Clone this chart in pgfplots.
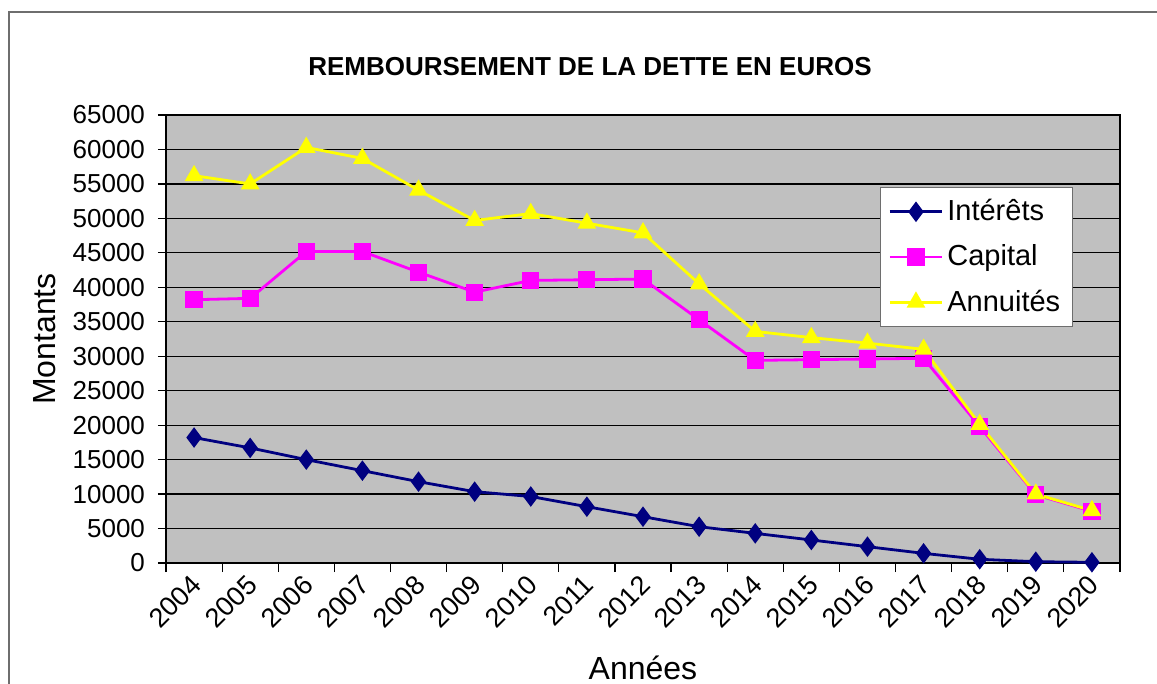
\documentclass[border=0pt]{standalone}
\usepackage{pgfplots}
\pgfplotsset{compat=1.18}
\usepackage{fontspec}
\setmainfont{Liberation Sans}
\definecolor{plotgray}{RGB}{192,192,192}
\definecolor{navyline}{RGB}{0,0,128}
\definecolor{magline}{RGB}{255,0,255}
\definecolor{yelline}{RGB}{255,255,0}
\definecolor{frameg}{RGB}{110,110,110}
\begin{document}
\begin{tikzpicture}
\useasboundingbox (0,0) rectangle (578.5pt,-342pt);
\draw[frameg, line width=1pt] (4.5pt,-345pt) -- (4.5pt,-6pt) -- (582pt,-6pt);
\node[font=\fontsize{13}{15}\selectfont\bfseries] at (295pt,-33.5pt) {REMBOURSEMENT DE LA DETTE EN EUROS};
\begin{axis}[
  at={(83pt,-281.5pt)}, anchor=south west,
  scale only axis, width=477pt, height=224pt,
  xmin=-0.5, xmax=16.5, ymin=0, ymax=65000,
  axis background/.style={fill=plotgray},
  xtick={0,...,16},
  xticklabels={2004,2005,2006,2007,2008,2009,2010,2011,2012,2013,2014,2015,2016,2017,2018,2019,2020},
  minor xtick={-0.5,0.5,...,16.5},
  major x tick style={draw=none},
  minor x tick style={black, line width=0.6pt},
  ytick={0,5000,...,65000},
  ymajorgrids, grid style={black, line width=0.6pt},
  tick align=outside, tick pos=left,
  major tick length=4pt, minor tick length=4.5pt,
  y tick style={black, line width=0.6pt},
  scaled ticks=false,
  /pgf/number format/.cd, set thousands separator={}, assume math mode=true, /pgfplots/.cd,
  yticklabel style={font=\fontsize{13}{15}\selectfont, xshift=-3pt},
  xticklabel style={font=\fontsize{13.5}{15}\selectfont, rotate=45, anchor=east, yshift=-4pt, xshift=1pt},
  ylabel={Montants}, xlabel={Années},
  every axis y label/.style={at={(axis description cs:-0.1268,0.5)}, rotate=90, anchor=center, font=\fontsize{16}{18}\selectfont},
  every axis x label/.style={at={(axis description cs:0.5,-0.234)}, anchor=center, font=\fontsize{16}{18}\selectfont},
  axis line style={black, line width=0.6pt},
  legend style={at={(0.7484,0.8393)}, anchor=north west, draw=frameg, fill=white, line width=0.6pt,
    font=\fontsize{14.5}{17}\selectfont, row sep=6.5pt, inner xsep=4pt, inner ysep=4pt},
  legend cell align=left,
  legend image code/.code={\draw[#1] (0pt,0pt) -- (26pt,0pt); \draw[#1, mark repeat=2, mark phase=2] plot coordinates {(0pt,0pt) (13pt,0pt) (26pt,0pt)};},
]
\addplot[navyline, line width=1.4pt, mark=diamond*, mark size=4pt, mark options={solid, fill=navyline}] coordinates {
(0,18200) (1,16700) (2,15000) (3,13400) (4,11800) (5,10350) (6,9650) (7,8170) (8,6720) (9,5270) (10,4300) (11,3340) (12,2370) (13,1400) (14,540) (15,190) (16,100)};
\addlegendentry{Intérêts}
\addplot[magline, line width=1.4pt, mark=square*, mark size=3.6pt, mark options={solid, fill=magline}] coordinates {
(0,38200) (1,38400) (2,45200) (3,45200) (4,42200) (5,39300) (6,41000) (7,41100) (8,41200) (9,35300) (10,29400) (11,29500) (12,29600) (13,29700) (14,19800) (15,9900) (16,7500)};
\addlegendentry{Capital}
\addplot[yelline, line width=1.4pt, mark=triangle*, mark size=4pt, mark options={solid, fill=yelline}] coordinates {
(0,56200) (1,55000) (2,60300) (3,58700) (4,54100) (5,49700) (6,50700) (7,49300) (8,47900) (9,40500) (10,33600) (11,32700) (12,31900) (13,31000) (14,20100) (15,10000) (16,7600)};
\addlegendentry{Annuités}
\end{axis}
\end{tikzpicture}
\end{document}
